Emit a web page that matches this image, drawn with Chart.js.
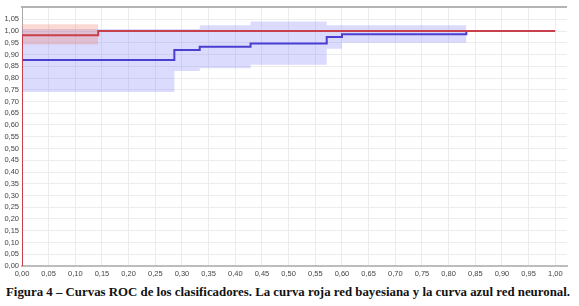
<!DOCTYPE html>
<html>
<head>
<meta charset="utf-8">
<script src="https://cdn.jsdelivr.net/npm/chart.js@4.4.1/dist/chart.umd.min.js"></script>
<style>
  html, body { margin: 0; padding: 0; background: #fff; }
  #wrap { position: relative; width: 579px; height: 306px; overflow: hidden; }
  #chartBox { position: absolute; left: 0; top: 0; width: 579px; height: 282px; }
  #caption { position: absolute; left: 6px; top: 284px; white-space: nowrap;
    font-family: "Liberation Serif", "DejaVu Serif", serif; font-weight: bold; font-size: 13.5px;
    color: #111; transform-origin: 0 0; line-height: 15px; }
</style>
</head>
<body>
<div id="wrap">
  <div id="chartBox"><canvas id="c"></canvas></div>
  <div id="caption">Figura 4 – Curvas ROC de los clasificadores. La curva roja red bayesiana y la curva azul red neuronal.</div>
</div>
<script>
// ---- Data (step curves: breakpoints on x, level after each breakpoint) ----
const xTickLabels = ["0,00","0,05","0,10","0,15","0,20","0,25","0,30","0,35","0,40","0,45","0,50","0,55","0,60","0,65","0,70","0,75","0,80","0,85","0,90","0,95","1,00"];
const yTickLabels = ["0,00","0,05","0,10","0,15","0,20","0,25","0,30","0,35","0,40","0,45","0,50","0,55","0,60","0,65","0,70","0,75","0,80","0,85","0,90","0,95","1,00","1,05"];

// Red curve (red bayesiana)
const redX = [0, 0.1429, 1.0];
const redY = [0.982, 1.0];
const redBandX = [0, 0.1429];
const redBandUpper = [1.029];
const redBandLower = [0.943];

// Blue curve (red neuronal)
const blueX = [0, 0.2857, 0.3333, 0.4286, 0.5714, 0.6, 0.8333, 0.8333];
const blueY = [0.877, 0.919, 0.933, 0.947, 0.975, 0.986, 1.0];
const blueUpperX = [0, 0.3333, 0.4286, 0.5714, 0.8333];
const blueUpper = [1.008, 1.025, 1.04, 1.025];
const blueLowerX = [0, 0.2857, 0.3333, 0.4286, 0.5714, 0.6, 0.8333];
const blueLower = [0.74, 0.83, 0.842, 0.856, 0.925, 0.95];

// Build step polylines from breakpoints/levels
function steps(xs, ys, startFromZero) {
  const pts = [];
  if (startFromZero) pts.push({x: xs[0], y: 0});
  for (let i = 0; i < ys.length; i++) {
    pts.push({x: xs[i], y: ys[i]});
    pts.push({x: xs[i + 1], y: ys[i]});
  }
  return pts;
}

const redPts = steps(redX, redY, true);
const bluePts = steps(blueX.slice(0, blueY.length + 1), blueY, true);

const BLUE_FILL = 'rgba(110,110,250,0.25)';
const RED_FILL = 'rgba(235,120,95,0.28)';

const topBorder = {
  id: 'topBorder',
  afterDraw(chart) {
    const {ctx, chartArea} = chart;
    ctx.save();
    ctx.strokeStyle = '#b3b3b3';
    ctx.lineWidth = 2;
    ctx.beginPath();
    ctx.moveTo(chartArea.left - 1, chartArea.top - 0.5);
    ctx.lineTo(chartArea.right, chartArea.top - 0.5);
    ctx.stroke();
    ctx.restore();
  }
};

new Chart(document.getElementById('c'), {
  type: 'line',
  data: {
    datasets: [
      { label: 'azul sup', data: steps(blueUpperX, blueUpper, false), borderWidth: 0, pointRadius: 0,
        borderColor: 'rgba(0,0,0,0)', backgroundColor: BLUE_FILL, fill: '+1', order: 5 },
      { label: 'azul inf', data: steps(blueLowerX, blueLower, false), borderWidth: 0, pointRadius: 0,
        borderColor: 'rgba(0,0,0,0)', backgroundColor: BLUE_FILL, fill: false, order: 5 },
      { label: 'roja sup', data: steps(redBandX, redBandUpper, false), borderWidth: 0, pointRadius: 0,
        borderColor: 'rgba(0,0,0,0)', backgroundColor: RED_FILL, fill: '+1', order: 4 },
      { label: 'roja inf', data: steps(redBandX, redBandLower, false), borderWidth: 0, pointRadius: 0,
        borderColor: 'rgba(0,0,0,0)', backgroundColor: RED_FILL, fill: false, order: 4 },
      { label: 'red neuronal', data: bluePts, borderColor: '#4a3fd0', borderWidth: 2, pointRadius: 0,
        fill: false, tension: 0, order: 2 },
      { label: 'red bayesiana', data: redPts, borderColor: '#c8404c', borderWidth: 2, pointRadius: 0,
        fill: false, tension: 0, order: 1 }
    ]
  },
  options: {
    responsive: true,
    maintainAspectRatio: false,
    animation: false,
    parsing: true,
    layout: { padding: { left: 0, right: 12, top: 5, bottom: 0 } },
    plugins: { legend: { display: false }, tooltip: { enabled: false } },
    scales: {
      x: {
        type: 'linear', min: 0, max: 1.022,
        afterBuildTicks(s) { s.ticks = xTickLabels.map((_, i) => ({ value: i * 0.05 })); },
        afterFit(s) { s.height = 16; },
        ticks: {
          autoSkip: false, maxRotation: 0, padding: 3, color: '#444',
          font: { family: '"Liberation Sans Narrow", "Liberation Sans", sans-serif', size: 7.5 },
          callback(v, i) { return xTickLabels[i]; }
        },
        grid: { color: '#ececec', lineWidth: 1, drawTicks: false },
        border: { color: '#bdbdbd', width: 2 }
      },
      y: {
        type: 'linear', min: 0, max: 1.1,
        afterBuildTicks(s) { s.ticks = yTickLabels.map((_, i) => ({ value: i * 0.05 })); },
        afterFit(s) { s.width = 22; },
        ticks: {
          autoSkip: false, padding: 3, color: '#444',
          font: { family: '"Liberation Sans", sans-serif', size: 7.5 },
          callback(v, i) { return yTickLabels[i]; }
        },
        grid: { color: '#ececec', lineWidth: 1, drawTicks: false },
        border: { color: '#a8a8a8', width: 1 }
      }
    }
  },
  plugins: [topBorder]
});

// fit caption width to reference (~564px)
const cap = document.getElementById('caption');
const w = cap.getBoundingClientRect().width;
cap.style.transform = 'scaleX(' + (564 / w) + ')';
</script>
</body>
</html>
